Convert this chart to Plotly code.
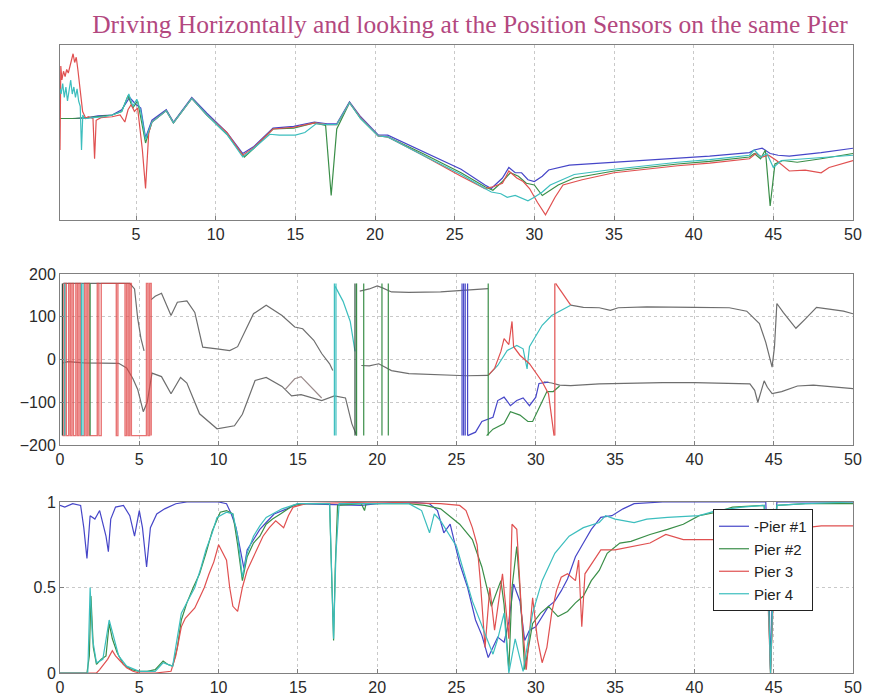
import plotly.graph_objects as go

# ---------------- DATA ----------------
title_text = "Driving Horizontally and looking at the Position Sensors on the same Pier"
legend_names = ["-Pier #1", "Pier #2", "Pier 3", "Pier 4"]
x_ticks = [0, 5, 10, 15, 20, 25, 30, 35, 40, 45, 50]
p2_yticks = [-200, -100, 0, 100, 200]
p3_yticks = [0, 0.5, 1]

# Panel 1 (position, arbitrary units 0..100)
p1_pier1 = [(0.23,58),(0.6,58),(1.2,58),(2.0,58.5),(2.6,59.5),(3.5,60),(4.1,63),(4.6,70),(5.0,66),(5.3,64),
            (5.6,47),(6.0,57),(6.9,63),(7.35,56),(8.5,70),(9.45,61),(10.7,50),(11.7,38),(12.4,42),(13.6,52.5),
            (14.9,53.5),(16.2,56),(17.0,55),(17.6,55),(18.4,67.5),(19.1,59),(20.2,48.6),(20.8,48.5),(23.0,39),(25.4,29),
            (26.9,20),(27.3,18),(28.0,24),(28.4,30),(28.8,27),(29.2,27),(29.6,23),(30.0,22),(30.5,25),(30.9,28.6),
            (32.2,31.4),(35.0,33),(38.9,35.4),(41.0,36.5),(43.5,38.5),(43.8,40),(44.3,41),(44.8,38),(45.3,37),(46.0,36.5),
            (48.0,38.5),(50.0,41)]
p1_pier2 = [(0.23,58),(1.0,58),(2.0,58.5),(2.6,59),(3.5,60),(4.1,62),(4.5,71),(4.8,64),(5.1,68),(5.6,44),
            (6.0,56),(6.9,62.5),(7.35,55.5),(8.5,69.5),(9.45,60),(10.7,49),(11.8,36),(12.4,41),(13.6,52),(14.9,52.5),
            (16.2,55.5),(16.9,54),(17.25,14),(17.6,52),(18.4,67),(19.1,58),(20.2,48),(20.8,47.5),(23.0,38),(25.4,27),
            (26.9,19),(27.4,17),(28.0,22),(28.5,27),(29.0,25),(29.5,21),(30.0,20),(30.5,14),(31.0,17),(31.5,20),
            (32.5,24),(35.0,28),(39.0,32),(41.0,33.5),(43.5,36),(43.8,38),(44.2,35),(44.5,40),(44.8,8),(45.1,32),
            (45.6,34),(46.5,33),(48.0,35),(50.0,38)]
p1_pier3 = [(0.23,40),(0.28,88),(0.35,80),(0.45,85),(0.55,82),(0.65,86),(0.75,84),(0.85,88),(0.95,92),(1.05,95),
            (1.15,90),(1.25,93),(1.35,86),(1.45,78),(1.55,70),(1.65,62),(1.75,60),(1.85,58),(2.0,59),(2.3,58),
            (2.4,35),(2.5,57),(2.8,58.5),(3.5,59),(4.0,60),(4.3,56),(4.5,63),(4.7,66),(4.9,62),(5.1,64),
            (5.4,40),(5.6,18),(5.8,50),(6.0,56),(6.9,62.5),(7.35,55.5),(8.5,69.5),(9.45,60),(10.7,50),(11.7,37),
            (12.4,41.5),(13.6,52),(14.9,53),(16.2,55.5),(17.0,54.5),(17.6,54.5),(18.4,67),(19.1,58.5),(20.2,48),(20.8,47.5),
            (23.0,37),(25.4,25),(26.9,18),(27.4,19),(28.0,21),(28.4,28),(28.9,24),(29.3,22),(29.7,18),(30.2,10),
            (30.7,3),(31.3,13),(31.8,20),(33.0,23),(35.0,27),(39.0,31),(41.0,32.5),(43.5,35),(43.9,38),(44.3,36),
            (44.7,37),(45.2,34),(46.0,28),(47.0,28.5),(48.0,27),(48.5,30),(50.0,34)]
p1_pier4 = [(0.23,75),(0.3,72),(0.4,78),(0.5,70),(0.6,76),(0.7,68),(0.8,74),(0.9,80),(1.0,72),(1.1,76),
            (1.2,70),(1.3,75),(1.4,68),(1.5,65),(1.58,40),(1.66,60),(1.75,58),(1.9,58),(2.3,58.5),(3.0,59),
            (3.5,60),(4.1,62),(4.55,72),(4.8,65),(5.05,69),(5.3,62),(5.6,46),(6.0,56),(6.9,62.5),(7.35,55.5),
            (8.5,69.5),(9.45,60),(10.7,49),(11.7,36),(12.4,41),(13.4,49),(14.0,48.5),(15.0,48.5),(15.6,50),(16.3,55),
            (17.0,54.5),(17.6,54.5),(18.4,67),(19.1,58),(20.2,48),(20.8,47.5),(23.0,37),(25.4,26),(26.9,18),(27.3,16),
            (27.9,15),(28.3,13),(28.8,14),(29.3,12),(29.6,11),(30.0,13),(30.5,16),(31.0,20),(31.5,22),(32.5,26),
            (35.0,29),(39.0,33),(41.0,34.5),(43.5,37),(43.8,40),(44.2,36),(44.6,38),(45.0,30),(45.5,34),(46.2,34.5),
            (48.0,35.5),(50.0,37)]

# Panel 2 (phase, degrees); None separates pieces
p2_upper_common = [(0.2,178),(4.4,178),(4.7,165),(4.9,96),(5.1,50),(5.3,20),(None,None),
                   (5.75,140),(6.0,148),(6.4,155),(7.0,103),(7.4,134),(8.0,137),(8.5,110),(9.0,29),(9.9,25),
                   (10.7,21),(11.2,30),(12.2,107),(13.0,127),(14.0,103),(14.8,76),(15.3,72),(16.0,45),(16.5,14),
                   (17.0,-10),(17.2,-26),(None,None),
                   (18.9,160),(19.5,165),(20.0,172),(20.3,168),(20.9,158),(22.0,157),(24.0,158),(25.3,162),
                   (26.0,163),(27.0,166),(None,None),
                   (32.2,127),(33.0,122),(34.0,121),(34.7,115),(35.2,121),(37.0,123),(40.0,122),(42.2,121),
                   (43.3,113),(44.1,84),(44.5,40),(44.9,-18),(45.05,30),(45.2,131),(45.6,110),(46.4,73),
                   (47.0,95),(47.7,122),(48.5,118),(49.4,113),(50.0,107)]
p2_lower_common = [(0.2,-8),(0.5,-5),(1.5,-8),(3.0,-9),(3.7,-9),(4.2,-20),(4.6,-45),(4.9,-70),(5.25,-122),
                   (5.5,-100),(5.8,-32),(6.4,-40),(7.0,-80),(7.6,-42),(8.0,-55),(8.8,-127),(9.9,-162),
                   (11.0,-155),(11.5,-128),(12.3,-49),(13.0,-42),(14.0,-63),(14.6,-85),(15.2,-82),(16.5,-96),
                   (17.3,-85),(18.0,-90),(18.4,-150),(18.7,-178),(None,None),
                   (19.0,-14),(19.5,-15),(20.1,-10),(20.9,-26),(22.0,-33),(24.4,-37),(25.6,-38),(27.0,-37),
                   (None,None),
                   (30.5,-52),(31.0,-55),(31.5,-60),(32.2,-61),(34.0,-57),(36.0,-55),(38.0,-54),(40.0,-54),
                   (42.0,-55),(43.5,-57),(43.8,-72),(44.0,-100),(44.2,-75),(44.4,-50),(44.6,-65),(44.9,-80),
                   (45.5,-75),(46.5,-62),(47.5,-60),(49.0,-64),(50.0,-68)]
p2_lower_variant = [(14.2,-70),(14.8,-45),(15.2,-40),(15.6,-55),(16.5,-90)]
p2_cyan_piece = [(17.35,171),(17.85,136),(18.3,89),(18.6,19),(None,None),
                 (27.0,-37),(27.6,-14),(28.2,21),(28.8,33),(29.2,25),(29.45,-22),(29.6,30),(30.0,56),
                 (30.4,80),(31.0,103),(32.2,127)]
p2_blue_piece = [(25.7,-178),(26.2,-170),(26.6,-145),(27.3,-135),(27.6,-96),(28.0,-88),(28.4,-108),
                 (28.8,-96),(29.2,-90),(29.6,-108),(30.0,-88),(30.2,-56),(30.8,-53)]
p2_green_piece = [(26.9,-178),(27.3,-163),(28.0,-150),(28.4,-122),(29.0,-130),(29.5,-145),(29.8,-145),
                  (30.2,-115),(30.7,-75),(31.1,-75),(31.5,-62)]
p2_red_piece = [(27.0,-37),(27.4,-21),(27.8,19),(28.0,49),(28.3,35),(28.5,89),(28.6,30),(29.0,10),
                (29.6,-10),(30.0,-30),(30.4,-52),(30.8,-80),(31.15,-178),(None,None),
                (31.25,178),(32.2,127)]
# Phase wrap positions (vertical jumps between -180 and +180)
p2_red_wraps = [0.2,0.3,0.4,0.55,0.65,0.75,0.85,1.0,1.1,1.2,1.3,1.55,1.65,1.75,1.85,
                2.35,2.45,2.6,3.55,3.65,4.1,4.2,4.3,4.4,4.5,5.45,5.55,5.65,5.75,31.2]
p2_cyan_wraps = [0.3,1.35,1.45,17.3,17.4]
p2_green_wraps = [1.9,18.7,19.15,20.3,20.7,27.0]
p2_blue_wraps = [25.35,25.45,25.55,25.7]
p2_dark_wraps = [0.15,18.6]

# Panel 3 (coherence 0..1)
p3_pier1 = [(0,0.98),(0.3,0.97),(0.8,0.99),(1.3,0.98),(1.5,0.85),(1.7,0.67),(1.9,0.92),(2.2,0.9),(2.5,0.95),(2.7,0.88),
            (2.9,0.8),(3.05,0.71),(3.2,0.9),(3.5,0.97),(4.0,0.98),(4.4,0.92),(4.7,0.8),(5.0,0.95),(5.2,0.85),(5.46,0.62),
            (5.7,0.85),(6.1,0.93),(6.6,0.96),(7.3,0.99),(8,1),(9,1),(10.0,1),(10.5,0.99),(10.8,0.93),(11.1,0.85),
            (11.3,0.75),(11.6,0.61),(11.8,0.72),(12.2,0.78),(12.6,0.84),(13.0,0.88),(13.5,0.93),(14.3,0.96),(15,0.99),(19,0.98),
            (20,0.99),(22,1),(23.3,0.99),(23.8,0.95),(24.2,0.82),(24.6,0.87),(25.2,0.64),(25.7,0.5),(26.2,0.31),(26.6,0.22),
            (27.0,0.09),(27.3,0.15),(27.6,0.21),(28.0,0.18),(28.3,0.3),(28.6,0.52),(29.0,0.42),(29.3,0.19),(29.6,0.25),(30.0,0.27),
            (30.4,0.33),(30.8,0.39),(31.2,0.42),(31.6,0.48),(32.0,0.55),(32.5,0.68),(33.0,0.76),(33.5,0.84),(34.1,0.91),(34.8,0.92),
            (35.5,0.96),(36.2,0.99),(38,1),(41,1),(44.5,1),(44.7,0.5),(44.8,0.02),(44.95,0.6),(45.2,1),(47,1),(50,1)]
p3_pier2 = [(0,0),(1.7,0),(1.85,0.1),(1.95,0.45),(2.1,0.15),(2.3,0.05),(2.6,0.08),(2.9,0.1),(3.1,0.29),(3.3,0.2),
            (3.6,0.12),(4.0,0.05),(4.5,0.02),(5.0,0.01),(5.5,0.01),(6.0,0.02),(6.5,0.07),(6.8,0.05),(7.1,0.04),(7.4,0.15),
            (7.65,0.31),(8.0,0.41),(8.4,0.5),(8.8,0.58),(9.2,0.7),(9.6,0.83),(10.1,0.94),(10.5,0.95),(10.9,0.93),(11.2,0.75),
            (11.5,0.54),(11.8,0.68),(12.2,0.76),(12.6,0.8),(13.0,0.87),(13.4,0.9),(13.9,0.93),(14.7,0.98),(15.5,0.99),(17.0,0.99),
            (17.15,0.5),(17.25,0.19),(17.35,0.6),(17.5,0.98),(19,0.99),(19.2,0.95),(19.3,0.99),(22,0.99),(23,0.98),(24,0.96),
            (25.2,0.87),(26.0,0.78),(26.6,0.62),(27.2,0.39),(27.8,0.54),(28.0,0.4),(28.3,0.02),(28.5,0.5),(28.8,0.74),(29.0,0.49),
            (29.3,0.02),(29.8,0.29),(30.3,0.35),(30.8,0.39),(31.4,0.33),(32.0,0.36),(32.5,0.41),(33.0,0.45),(33.5,0.54),(34.0,0.6),
            (34.5,0.7),(35.3,0.76),(36.0,0.77),(37.2,0.81),(38.3,0.84),(39.3,0.87),(40.3,0.92),(41.4,0.94),(42.4,0.97),(44.4,0.98),
            (44.65,0.5),(44.8,0.0),(45.0,0.6),(45.2,0.98),(47,0.99),(50,0.99)]
p3_pier3 = [(0,0),(2.3,0),(2.5,0.02),(2.8,0.06),(3.0,0.08),(3.3,0.13),(3.5,0.1),(3.8,0.07),(4.2,0.03),(4.6,0.01),
            (5,0),(6,0),(7.0,0.01),(7.3,0.1),(7.65,0.27),(7.9,0.32),(8.2,0.35),(8.5,0.38),(8.8,0.44),(9.1,0.5),
            (9.4,0.58),(9.7,0.65),(10.0,0.75),(10.3,0.7),(10.5,0.66),(10.7,0.5),(10.9,0.39),(11.2,0.36),(11.5,0.5),(11.8,0.6),
            (12.2,0.68),(12.5,0.74),(12.8,0.8),(13.2,0.85),(13.6,0.89),(14.1,0.85),(14.4,0.92),(14.7,0.97),(15.5,0.99),(20,1),
            (24,0.99),(25.2,0.98),(25.6,0.95),(26.0,0.85),(26.3,0.75),(26.5,0.54),(26.8,0.15),(27.1,0.5),(27.4,0.25),(27.9,0.58),
            (28.3,0.2),(28.5,0.87),(28.8,0.84),(29.1,0.35),(29.4,0.02),(29.8,0.44),(30.1,0.2),(30.4,0.06),(30.7,0.15),(31.0,0.35),
            (31.3,0.48),(31.6,0.56),(32.0,0.58),(32.5,0.54),(32.7,0.66),(32.9,0.27),(33.1,0.58),(33.6,0.65),(34.1,0.72),(35.0,0.72),
            (36.0,0.74),(37.2,0.76),(38.2,0.81),(39.3,0.78),(40.3,0.78),(41.4,0.78),(43,0.8),(44.4,0.82),(44.65,0.4),(44.8,0.0),
            (45.0,0.5),(45.2,0.83),(46,0.84),(48,0.86),(50,0.86)]
p3_pier4 = [(0,0),(1.75,0),(1.9,0.5),(2.05,0.2),(2.3,0.06),(2.7,0.08),(3.1,0.31),(3.4,0.2),(3.7,0.1),(4.2,0.04),
            (5,0.01),(6,0.01),(6.5,0.06),(7.1,0.04),(7.4,0.2),(7.65,0.35),(8.1,0.43),(8.5,0.5),(8.9,0.62),(9.2,0.72),
            (9.6,0.82),(9.9,0.91),(10.5,0.94),(10.9,0.93),(11.2,0.8),(11.5,0.56),(11.8,0.7),(12.2,0.8),(12.6,0.86),(13.0,0.91),
            (14.0,0.96),(15,0.99),(17.0,0.99),(17.15,0.5),(17.25,0.2),(17.4,0.7),(17.6,0.99),(22,0.99),(22.8,0.95),(23.3,0.82),
            (23.6,0.93),(24.0,0.89),(25.0,0.74),(26.0,0.42),(26.8,0.23),(27.3,0.11),(27.6,0.2),(28.0,0.35),(28.3,0.0),(28.7,0.2),
            (29.2,0.01),(29.8,0.35),(30.4,0.54),(31.2,0.7),(32.1,0.8),(33.0,0.85),(34.0,0.88),(34.4,0.92),(35.0,0.9),(36.2,0.88),
            (37,0.9),(38.3,0.91),(40.3,0.92),(41.4,0.95),(43,0.97),(44.4,0.98),(44.65,0.5),(44.8,0.0),(45.0,0.6),(45.2,0.98),
            (47,0.99),(50,1.0)]

# ---------------- STYLE ----------------
WIN_W, WIN_H = 881, 699
OFF = 8                      # default page body margin
W, H = WIN_W - OFF, WIN_H - OFF
colors = ["#4646c8", "#3a8e48", "#e05050", "#3cbebe"]
gray = "#6e6e6e"
LW = 1.2
font_family = "Liberation Sans, Arial, sans-serif"


def xy(pairs):
    return [p[0] for p in pairs], [p[1] for p in pairs]


def verticals(ws, lo=-178, hi=178):
    X, Y = [], []
    for w in ws:
        X += [w, w, None]
        Y += [lo, hi, None]
    return X, Y


def zigzag(ws, lo=-178, hi=178):
    X, Y = [], []
    up = True
    for w in ws:
        a, b = (hi, lo) if up else (lo, hi)
        X += [w, w]
        Y += [a, b]
        up = not up
    return X, Y


def px_x(p):
    return (p - OFF) / W


def px_y(p):
    return 1 - (p - OFF) / H


fig = go.Figure()

# Panel 1
for pairs, c in zip([p1_pier1, p1_pier2, p1_pier3, p1_pier4], colors):
    x, y = xy(pairs)
    fig.add_trace(go.Scatter(x=x, y=y, mode="lines", line=dict(color=c, width=LW),
                             showlegend=False, xaxis="x", yaxis="y"))

# Panel 2
for pairs, c in [(p2_upper_common, gray), (p2_lower_common, gray), (p2_lower_variant, "#9a8a8a"),
                 (p2_cyan_piece, colors[3]), (p2_blue_piece, colors[0]),
                 (p2_green_piece, colors[1]), (p2_red_piece, colors[2])]:
    x, y = xy(pairs)
    fig.add_trace(go.Scatter(x=x, y=y, mode="lines", line=dict(color=c, width=LW),
                             connectgaps=False, showlegend=False, xaxis="x2", yaxis="y2"))
zx, zy = zigzag(p2_red_wraps[:-1])
fig.add_trace(go.Scatter(x=zx, y=zy, mode="lines", line=dict(color="rgba(224,70,70,0.75)", width=1.4),
                         showlegend=False, xaxis="x2", yaxis="y2"))
for ws, c in [([p2_red_wraps[-1]], colors[2]), (p2_cyan_wraps, colors[3]), (p2_green_wraps, colors[1]),
              (p2_blue_wraps, colors[0]), (p2_dark_wraps, "#2f4f3f")]:
    vx, vy = verticals(ws)
    fig.add_trace(go.Scatter(x=vx, y=vy, mode="lines", line=dict(color=c, width=LW),
                             showlegend=False, xaxis="x2", yaxis="y2"))

# Panel 3
for pairs, c, name in zip([p3_pier1, p3_pier2, p3_pier3, p3_pier4], colors, legend_names):
    x, y = xy(pairs)
    fig.add_trace(go.Scatter(x=x, y=y, mode="lines", line=dict(color=c, width=LW),
                             name=name, legendgroup=name, showlegend=True, xaxis="x3", yaxis="y3"))

xd = [px_x(60), px_x(853)]


def ydom(top, bot):
    return [px_y(bot), px_y(top)]


axis_common = dict(showline=True, mirror=True, linecolor="#808080", linewidth=1,
                   ticks="inside", ticklen=4, tickcolor="#808080",
                   showgrid=True, gridcolor="#c9c9c9", griddash="dot", gridwidth=1,
                   zeroline=False, automargin=False,
                   tickfont=dict(family=font_family, size=16, color="#2a2a2a"))
y1_axis = dict(axis_common)
y1_axis.update(showgrid=False, ticks="", showticklabels=False)

fig.update_layout(
    width=W, height=H, margin=dict(l=0, r=0, t=0, b=0),
    paper_bgcolor="white", plot_bgcolor="white",
    title=dict(text=title_text, x=px_x(470), xanchor="center", y=px_y(15.5), yanchor="top",
               font=dict(family="Liberation Serif, DejaVu Serif, serif", size=25.5, color="#b3487f")),
    xaxis=dict(domain=xd, anchor="y", range=[0.23, 50], tickvals=x_ticks[1:], **axis_common),
    yaxis=dict(domain=ydom(45, 220), anchor="x", range=[0, 100], **y1_axis),
    xaxis2=dict(domain=xd, anchor="y2", range=[0, 50], tickvals=x_ticks, **axis_common),
    yaxis2=dict(domain=ydom(274, 445), anchor="x2", range=[-200, 200], tickvals=p2_yticks, **axis_common),
    xaxis3=dict(domain=xd, anchor="y3", range=[0, 50], tickvals=x_ticks, **axis_common),
    yaxis3=dict(domain=ydom(502, 673), anchor="x3", range=[0, 1], tickvals=p3_yticks,
                ticktext=["0", "0.5", "1"], **axis_common),
    legend=dict(x=px_x(713), y=px_y(509), xanchor="left", yanchor="top",
                bgcolor="white", bordercolor="#222222", borderwidth=1,
                font=dict(family=font_family, size=15, color="#222222"),
                tracegroupgap=0, entrywidth=117),
)

fig.write_html("out.html")
